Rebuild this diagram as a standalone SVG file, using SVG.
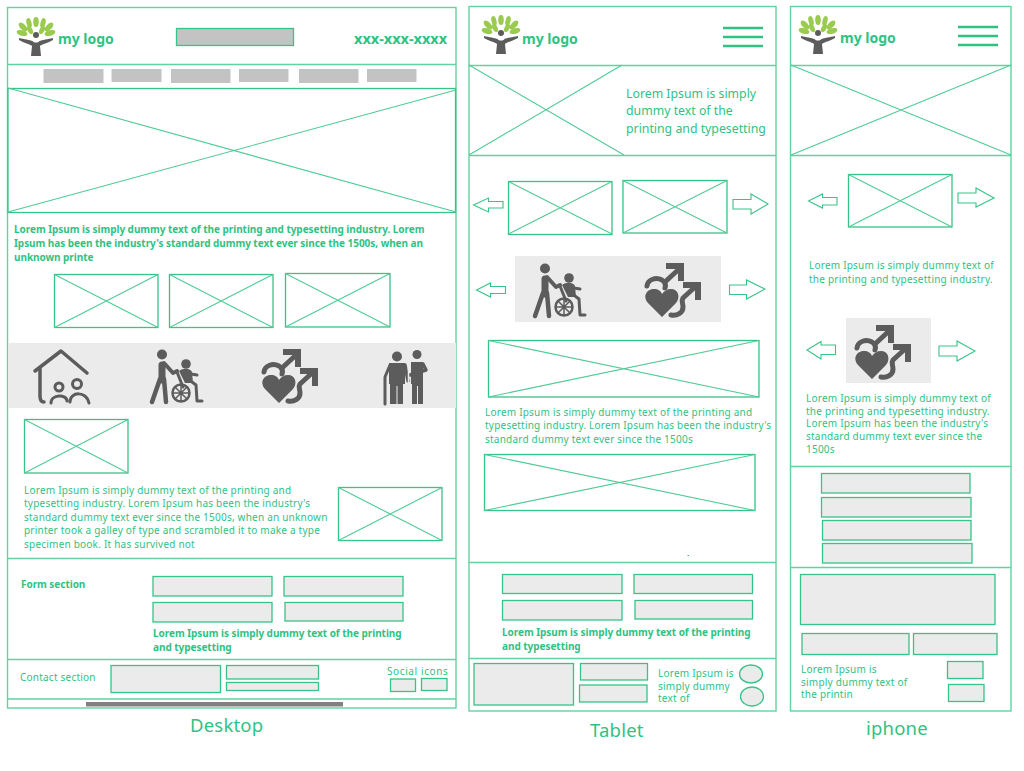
<svg xmlns="http://www.w3.org/2000/svg" width="1024" height="771" viewBox="0 0 1024 771">
<style>
text{font-family:"Noto Sans","Open Sans","Liberation Sans",sans-serif;fill:#2fc283}
.t{font-size:10px;letter-spacing:.22px}
.b{font-size:10px;font-weight:700;letter-spacing:-.04px}
.l{font-size:18.500px;letter-spacing:.2px}
.m{font-size:14px;font-weight:700}
.p{font-size:14.500px;font-weight:700}
.frame,.img,.g,.dg,.arr{stroke:#38c488;stroke-width:1.300}
.frame{fill:none;stroke:#62d2a2;stroke-width:1.400}
.img{fill:#fff}
.x{stroke:#4fcb97;stroke-width:1.100;fill:none}
.g{fill:#ebebeb}
.dg{fill:#c3c3c3}
.n{fill:#c3c3c3}
.band{fill:#ebebeb}
.arr{fill:#fff;stroke-width:1.100}
.h{stroke:#2fc283;stroke-width:2.500;fill:none}
.ic{fill:#5c5c5c;stroke:none}
.is{fill:none;stroke:#5c5c5c;stroke-linecap:round;stroke-linejoin:round}
.leaf{fill:#9acb4f}
</style>
<defs>
<symbol id="logo" overflow="visible">
<g class="leaf">
<ellipse cx="12" cy="6" rx="2.500" ry="5" transform="rotate(-15 12 6)"/>
<ellipse cx="19" cy="5" rx="2.800" ry="5"/>
<ellipse cx="26" cy="6" rx="2.500" ry="5" transform="rotate(15 26 6)"/>
<ellipse cx="6" cy="10" rx="2.800" ry="5.500" transform="rotate(-45 6 10)"/>
<ellipse cx="32" cy="10" rx="2.800" ry="5.500" transform="rotate(45 32 10)"/>
<ellipse cx="5" cy="16" rx="2.800" ry="5.500" transform="rotate(-75 5 16)"/>
<ellipse cx="33" cy="16" rx="2.800" ry="5.500" transform="rotate(75 33 16)"/>
<ellipse cx="13" cy="13" rx="2.500" ry="4.500" transform="rotate(-25 13 13)"/>
<ellipse cx="25" cy="13" rx="2.500" ry="4.500" transform="rotate(25 25 13)"/>
</g>
<circle class="ic" cx="19" cy="18" r="3"/>
<path class="ic" d="M2 21C7 22 13 23 15.500 24C17 26 21 26 22.500 24C25 23 31 22 36 21L36 23C31 26 25 27 23 29L24 39L14 39L15 29C13 27 7 26 2 23Z"/>
</symbol>
<symbol id="hearts" overflow="visible">
<path class="ic" d="M17 54L3 40C-3 33 2 26 9 26C13 26 16 28 17 31C19 28 22 26 26 26C33 26 36 34 31 40Z"/>
<path class="is" stroke-width="5" d="M2 23C3 16 11 14 17 17C20 19 21 22 20 25" stroke-linecap="butt"/>
<path class="is" stroke-width="5" d="M20 19L34 6" stroke-linecap="butt"/>
<path class="ic" d="M21 0H39V18H33V6H21Z"/>
<path class="is" stroke-width="5" d="M26 52C32 53 38 50 38 44C38 40 36 38 38 35L50 24" stroke-linecap="butt"/>
<path class="ic" d="M38 19H56V37H50V25H38Z"/>
</symbol>
<symbol id="chair" overflow="visible">
<circle class="ic" cx="13" cy="5.500" r="5"/>
<path class="is" stroke-width="7" d="M13 16V31"/>
<path class="is" stroke-width="4" d="M15 14L24 24L28 22"/>
<path class="is" stroke-width="4.500" d="M11 30L3 53M15 30L17 53"/>
<circle class="ic" cx="37" cy="15" r="4.800"/>
<path class="ic" d="M30 22C34 19 41 19 43 23L44 34L36 34Z"/>
<path class="is" stroke-width="3" d="M42 25L48 26M28 23L34 38M43 33L47 36L48 52L53 52"/>
<circle cx="32" cy="44" r="8.500" fill="none" stroke="#5c5c5c" stroke-width="2.500"/>
<path class="is" stroke-width="1.500" d="M24 44H40M32 36V52M26 38L38 50M38 38L26 50"/>
</symbol>
<symbol id="house" overflow="visible">
<path class="is" stroke-width="3.500" d="M1 21L27 1L53 23"/>
<path class="is" stroke-width="3.500" d="M6 18V46C6 49 7 52 10 52"/>
<circle cx="25" cy="37" r="4" fill="none" stroke="#5c5c5c" stroke-width="3"/>
<circle cx="43" cy="34" r="4.500" fill="none" stroke="#5c5c5c" stroke-width="3"/>
<path class="is" stroke-width="3" d="M17 53C17 44 33 44 33 51M36 52C36 41 53 41 55 53"/>
</symbol>
<symbol id="elders" overflow="visible">
<circle class="ic" cx="15" cy="6.500" r="5"/>
<circle class="ic" cx="35" cy="4.500" r="4.500"/>
<path class="ic" d="M7 13H23V34H21V54H15.500V36H14.500V54H8V34H7Z"/>
<path class="ic" d="M29 12H41V34H41V54H36V36H35V54H30V34H29Z"/>
<path class="is" stroke-width="3" d="M8 15L3 27M3 27V54"/>
<path class="is" stroke-width="3.500" d="M23 15L26 31"/>
<path class="is" stroke-width="3.500" d="M41 14L44 20L28 25" stroke="#5c5c5c"/>
<path d="M26.500 12V33" stroke="#ebebeb" stroke-width="1.500"/>
</symbol>
</defs>

<g id="desktop">
<rect class="frame" x="7.500" y="7.500" width="448.500" height="700.500"/>
<path class="frame" d="M8 64.500H456M8 558.500H456M8 659.500H456M8 699H456"/>
<use href="#logo" x="17" y="17"/>
<text class="m" x="58" y="44">my logo</text>
<rect class="dg" x="176.500" y="28.500" width="117" height="17"/>
<text class="p" x="354" y="44">xxx-xxx-xxxx</text>
<g id="d-nav">
<rect class="n" x="43.500" y="69" width="60" height="14"/><rect class="n" x="111.500" y="69" width="50" height="13"/><rect class="n" x="171" y="69" width="59.500" height="14"/><rect class="n" x="239" y="69" width="49.500" height="13"/><rect class="n" x="299" y="69" width="59.500" height="14"/><rect class="n" x="367" y="69" width="49.500" height="13"/>
</g>
<g id="d-hero"><rect class="img" x="8" y="88.500" width="447.500" height="124"/><path class="x" d="M8 88L456 212M456 90L8 212"/></g>
<text class="b"><tspan x="14" y="233">Lorem Ipsum is simply dummy text of the printing and typesetting industry. Lorem</tspan><tspan x="14" y="247">Ipsum has been the industry's standard dummy text ever since the 1500s, when an</tspan><tspan x="14" y="261">unknown printe</tspan></text>
<g id="d-img1"><rect class="img" x="54.500" y="274.500" width="103.500" height="53"/><path class="x" d="M54.500 274.500L158 327.500M158 274.500L54.500 327.500"/></g>
<g id="d-img2"><rect class="img" x="169.500" y="274.500" width="103.500" height="53"/><path class="x" d="M169.500 274.500L273 327.500M273 274.500L169.500 327.500"/></g>
<g id="d-img3"><rect class="img" x="285.500" y="273.500" width="104.500" height="53.500"/><path class="x" d="M285.500 273.500L390 327M390 273.500L285.500 327"/></g>
<rect class="band" x="8" y="343" width="448" height="65"/>
<use href="#house" x="34" y="350"/>
<use href="#chair" x="149" y="349"/>
<use href="#hearts" x="262" y="349"/>
<use href="#elders" x="382" y="350"/>
<g id="d-img4"><rect class="img" x="24.500" y="419.500" width="103.500" height="53.500"/><path class="x" d="M24.500 419.500L128 473M128 419.500L24.500 473"/></g>
<text class="t"><tspan x="24" y="494">Lorem Ipsum is simply dummy text of the printing and</tspan><tspan x="24" y="507">typesetting industry. Lorem Ipsum has been the industry's</tspan><tspan x="24" y="521">standard dummy text ever since the 1500s, when an unknown</tspan><tspan x="24" y="534">printer took a galley of type and scrambled it to make a type</tspan><tspan x="24" y="548">specimen book. It has survived not</tspan></text>
<g id="d-img5"><rect class="img" x="338.500" y="487.500" width="103.500" height="53"/><path class="x" d="M338.500 487.500L442 540.500M442 487.500L338.500 540.500"/></g>
<text class="b" x="21" y="588">Form section</text>
<rect class="g" x="153" y="576.500" width="119" height="19.500"/><rect class="g" x="284" y="576.500" width="119" height="19.500"/><rect class="g" x="153" y="602.500" width="119" height="19.500"/><rect class="g" x="285" y="602.500" width="118" height="18.500"/>
<text class="b"><tspan x="153" y="637">Lorem Ipsum is simply dummy text of the printing</tspan><tspan x="153" y="651">and typesetting</tspan></text>
<text class="t" x="20" y="681">Contact section</text>
<rect class="g" x="111" y="665.500" width="109.500" height="27"/><rect class="g" x="226.500" y="665.500" width="92" height="13.500"/><rect class="g" x="226.500" y="682.500" width="92" height="8"/>
<text class="t" x="387" y="675" textLength="61">Social icons</text>
<rect class="g" x="390.500" y="679" width="25" height="12.500"/><rect class="g" x="421.500" y="678.500" width="25.500" height="12"/>
<rect x="86" y="702" width="257" height="4.500" fill="#808080"/>
<text class="l" x="190" y="732">Desktop</text>
</g>

<g id="tablet">
<rect class="frame" x="469" y="6.500" width="307" height="704.500"/>
<path class="frame" d="M469 65.500H776M469 155.500H776M469 562.500H776M469 658.500H776"/>
<use href="#logo" x="482" y="15"/>
<text class="m" x="522" y="44">my logo</text>
<path class="h" d="M723 28H763M723 37H763M723 46H763"/>
<path class="x" d="M469 65L624 155M622 65L469 155"/>
<text font-size="12.300"><tspan x="626" y="98">Lorem Ipsum is simply</tspan><tspan x="626" y="115">dummy text of the</tspan><tspan x="626" y="133">printing and typesetting</tspan></text>
<g id="t-img1"><rect class="img" x="508.500" y="181.500" width="103.500" height="53"/><path class="x" d="M508.500 181.500L612 234M612 181.500L508.500 234"/></g>
<g id="t-img2"><rect class="img" x="623" y="180.500" width="104" height="52.500"/><path class="x" d="M623 180.500L727 233M727 180.500L623 233"/></g>
<path class="arr" d="M473.500 205L488.500 198V201.500H503V208H488.500V212Z"/>
<path class="arr" d="M733 199.500H751V194L768 204L751 214V209H733Z"/>
<rect class="band" x="515" y="256" width="206" height="66"/>
<use href="#chair" x="532" y="263"/>
<use href="#hearts" x="645" y="263"/>
<path class="arr" d="M476.500 290L490.500 283V286.500H505.500V293.500H490.500V297Z"/>
<path class="arr" d="M729.500 285H746.500V280L765 289L746.500 299V294.500H729.500Z"/>
<g id="t-img3"><rect class="img" x="488.500" y="340.500" width="270.500" height="56.500"/><path class="x" d="M488.500 340.500L759 397M759 340.500L488.500 397"/></g>
<text class="t"><tspan x="485" y="416">Lorem Ipsum is simply dummy text of the printing and</tspan><tspan x="485" y="429">typesetting industry. Lorem Ipsum has been the industry's</tspan><tspan x="485" y="443">standard dummy text ever since the 1500s</tspan></text>
<g id="t-img4"><rect class="img" x="484.500" y="454.500" width="270.500" height="56"/><path class="x" d="M484.500 454.500L755 510.500M755 454.500L484.500 510.500"/></g>
<rect x="687.500" y="555" width="1.500" height="1" fill="#38c488"/>
<rect class="g" x="502.500" y="574.500" width="119.500" height="19"/><rect class="g" x="634" y="574.500" width="118.500" height="19"/><rect class="g" x="502.500" y="600.500" width="119.500" height="19.500"/><rect class="g" x="635" y="600.500" width="117.500" height="18.500"/>
<text class="b"><tspan x="502" y="636">Lorem Ipsum is simply dummy text of the printing</tspan><tspan x="502" y="650">and typesetting</tspan></text>
<rect class="g" x="474" y="663.500" width="99.500" height="41.500"/><rect class="g" x="580.500" y="663.500" width="67" height="16.500"/><rect class="g" x="579.500" y="685" width="67.500" height="17"/>
<text class="t"><tspan x="658" y="677">Lorem Ipsum is</tspan><tspan x="658" y="690">simply dummy</tspan><tspan x="658" y="702">text of</tspan></text>
<ellipse class="g" cx="751" cy="674" rx="11.500" ry="9"/><ellipse class="g" cx="752" cy="696.500" rx="11.500" ry="9.500"/>
<text class="l" x="590" y="737">Tablet</text>
</g>

<g id="iphone">
<rect class="frame" x="790.500" y="6.500" width="220.500" height="704.500"/>
<path class="frame" d="M791 65.500H1011M791 155.500H1011M791 466.500H1011M791 567.500H1011"/>
<use href="#logo" x="799" y="15"/>
<text class="m" x="840" y="43">my logo</text>
<path class="h" d="M958 27H998M958 36H998M958 45H998"/>
<path class="x" d="M791 65L1011 155M1011 65L791 155"/>
<g id="p-img1"><rect class="img" x="848.500" y="174.500" width="103.500" height="52.500"/><path class="x" d="M848.500 174.500L952 227M952 174.500L848.500 227"/></g>
<path class="arr" d="M808.500 201L822.500 194V197.500H837V205H822.500V208Z"/>
<path class="arr" d="M958 193H976V188L994 198L976 207V203H958Z"/>
<text class="t"><tspan x="809" y="269">Lorem Ipsum is simply dummy text of</tspan><tspan x="809" y="283">the printing and typesetting industry.</tspan></text>
<rect class="band" x="846" y="318" width="85" height="65"/>
<use href="#hearts" x="855" y="325"/>
<path class="arr" d="M807 350L821 341.500V345H835.500V354.500H821V359Z"/>
<path class="arr" d="M939 346H957V341L975 351L957 361V356H939Z"/>
<text class="t"><tspan x="806" y="402">Lorem Ipsum is simply dummy text of</tspan><tspan x="806" y="415">the printing and typesetting industry.</tspan><tspan x="806" y="427">Lorem Ipsum has been the industry's</tspan><tspan x="806" y="440">standard dummy text ever since the</tspan><tspan x="806" y="453">1500s</tspan></text>
<rect class="g" x="821.500" y="473.500" width="148.500" height="19.500"/><rect class="g" x="821.500" y="497.500" width="149.500" height="19.500"/><rect class="g" x="822.500" y="520.500" width="148.500" height="19.500"/><rect class="g" x="822.500" y="543.500" width="149.500" height="19.500"/>
<rect class="g" x="800.500" y="574.500" width="194.500" height="50"/>
<rect class="g" x="802" y="633.500" width="107" height="21"/><rect class="g" x="913.500" y="633.500" width="83.500" height="21"/>
<text class="t"><tspan x="801" y="673">Lorem Ipsum is</tspan><tspan x="801" y="686">simply dummy text of</tspan><tspan x="801" y="698">the printin</tspan></text>
<rect class="g" x="947.500" y="661.500" width="35.500" height="17"/><rect class="g" x="948.500" y="684.500" width="35.500" height="17"/>
<text class="l" x="866" y="735">iphone</text>
</g>
</svg>
